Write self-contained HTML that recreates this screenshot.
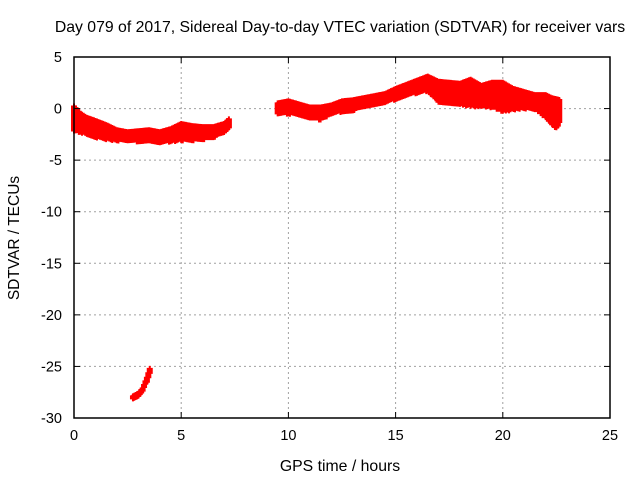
<!DOCTYPE html>
<html><head><meta charset="utf-8"><style>
body{margin:0;background:#fff}
svg{display:block;font-family:"Liberation Sans",sans-serif}
</style></head><body>
<svg id="chart" width="640" height="480">
<text x="340" y="32" font-size="15.8" text-anchor="middle">Day 079 of 2017, Sidereal Day-to-day VTEC variation (SDTVAR) for receiver vars</text>
<text x="340" y="471" font-size="15.8" text-anchor="middle">GPS time / hours</text>
<text transform="translate(19,238) rotate(-90)" font-size="15.5" text-anchor="middle">SDTVAR / TECUs</text>
<g id="grid"></g><g id="marks"></g><g id="axes"></g>
</svg>
<script>
const xTicks=[0,5,10,15,20,25];
const yTicks=[5,0,-5,-10,-15,-20,-25,-30];
const seg1Times=[0,0.3,0.6,1,1.5,2,2.5,3,3.5,4,4.5,5,5.5,6,6.5,7,7.3];
const seg1Center=[-1,-1.4,-1.7,-2,-2.3,-2.6,-2.7,-2.7,-2.6,-2.8,-2.6,-2.3,-2.4,-2.4,-2.3,-1.9,-1.4];
const seg1Spread=[1.2,0.9,0.8,0.8,0.7,0.5,0.4,0.5,0.5,0.5,0.6,0.8,0.7,0.6,0.5,0.4,0.5];
const seg2Times=[2.75,3,3.2,3.4,3.6];
const seg2Center=[-28,-27.8,-27.3,-26.3,-25];
const seg2Spread=[0.1,0.15,0.15,0.2,0.2];
const seg3Times=[9.5,10,10.5,11,11.5,12,12.5,13,13.5,14,14.5,15,15.5,16,16.5,17,17.5,18,18.5,19,19.5,20,20.5,21,21.5,22,22.3,22.5,22.7];
const seg3Center=[0,0.1,-0.1,-0.4,-0.5,-0.1,0.2,0.3,0.6,0.8,1,1.4,1.8,2.1,2.4,1.6,1.5,1.4,1.5,1.2,1.3,1.1,0.9,0.8,0.6,0.2,-0.3,-0.5,-0.2];
const seg3Spread=[0.5,0.6,0.5,0.5,0.6,0.4,0.5,0.5,0.4,0.4,0.4,0.5,0.5,0.6,0.7,1,1,1,1.3,1,1.2,1.4,1,0.8,0.7,1.1,1.3,1.4,1];
const X0=74,X1=610,Y0=57,Y1=418,xmin=0,xmax=25,ymin=-30,ymax=5;
const xs=v=>X0+(v-xmin)/(xmax-xmin)*(X1-X0);
const ys=v=>Y1-(v-ymin)/(ymax-ymin)*(Y1-Y0);
const NS='http://www.w3.org/2000/svg';
function mk(tag,attrs,parent){const e=document.createElementNS(NS,tag);for(const k in attrs)e.setAttribute(k,attrs[k]);parent.appendChild(e);return e;}
const grid=document.getElementById('grid'),axes=document.getElementById('axes'),marks=document.getElementById('marks');
xTicks.forEach(t=>{const x=xs(t);
 if(t>xmin&&t<xmax){const l=mk('line',{x1:x,x2:x,y1:Y0,y2:Y1,stroke:'#a0a0a0','stroke-dasharray':'2,3'},grid);
 
 }
 mk('line',{x1:x,x2:x,y1:Y1,y2:Y1-6,stroke:'#000'},axes);mk('line',{x1:x,x2:x,y1:Y0,y2:Y0+6,stroke:'#000'},axes);
 const tx=mk('text',{x:x,y:Y1+22,'font-size':14.5,'text-anchor':'middle'},axes);tx.textContent=t;
 
 });
yTicks.forEach(t=>{const y=ys(t);
 if(t>ymin&&t<ymax){const l=mk('line',{x1:X0,x2:X1,y1:y,y2:y,stroke:'#a0a0a0','stroke-dasharray':'2,3'},grid);
 
 }
 mk('line',{x1:X0,x2:X0+6,y1:y,y2:y,stroke:'#000'},axes);mk('line',{x1:X1,x2:X1-6,y1:y,y2:y,stroke:'#000'},axes);
 const tx=mk('text',{x:X0-12,y:y+5,'font-size':14.5,'text-anchor':'end'},axes);tx.textContent=t;
 
 });
const frame=mk('rect',{x:X0,y:Y0,width:X1-X0,height:Y1-Y0,fill:'none',stroke:'#000','stroke-width':1.5},axes);


function drawSeg(T,C,S,name){
 const g=mk('g',{stroke:'#f00','stroke-width':2,fill:'none'},marks);
 
 
 let d='';
 for(let i=0;i<T.length-1;i++){
  const n=Math.max(2,Math.round((xs(T[i+1])-xs(T[i]))/1.5));
  for(let k=0;k<n;k++){const f=k/n;const t=T[i]+(T[i+1]-T[i])*f;const c=C[i]+(C[i+1]-C[i])*f;const s=S[i]+(S[i+1]-S[i])*f;
   const yt=ys(c+s),yb=ys(c-s),x=xs(t);
   for(let y=yt;y<=yb+0.01;y+=2){d+=`M${x-3},${y}h6M${x},${y-3}v6`;}
  }}
 const p=mk('path',{d:d},g);
 
 
}
drawSeg(seg1Times,seg1Center,seg1Spread,'series-segment-1');
drawSeg(seg2Times,seg2Center,seg2Spread,'series-segment-2');
drawSeg(seg3Times,seg3Center,seg3Spread,'series-segment-3');
</script>
</body></html>
